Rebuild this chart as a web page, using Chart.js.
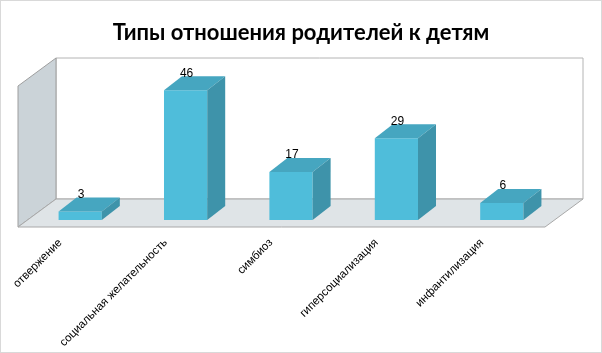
<!DOCTYPE html>
<html>
<head>
<meta charset="utf-8">
<script src="https://cdn.jsdelivr.net/npm/chart.js@4"></script>
<style>
  html, body { margin: 0; padding: 0; background: #fff; }
  #wrap { width: 602px; height: 353px; }
</style>
</head>
<body>
<div id="wrap"><canvas id="myChart" width="602" height="353"></canvas></div>
<script>
// данные
const categories = ['отвержение', 'социальная желательность', 'симбиоз', 'гиперсоциализация', 'инфантилизация'];
const values = [3, 46, 17, 29, 6];
const axisMax = 50;

// 3D: полная глубина "коробки" и глубина столбца
const DEPTH_X = 38, DEPTH_Y = -28;
const BAR_DX = 18, BAR_DY = -14;

const colFront = '#4fbdda';
const colTop = '#46a6c0';
const colSide = '#3e93aa';

function poly(ctx, pts, fill, stroke) {
    ctx.beginPath();
    ctx.moveTo(pts[0][0], pts[0][1]);
    for (let i = 1; i < pts.length; i++) ctx.lineTo(pts[i][0], pts[i][1]);
    ctx.closePath();
    if (fill) { ctx.fillStyle = fill; ctx.fill(); }
    if (stroke) { ctx.strokeStyle = stroke; ctx.lineWidth = 1; ctx.stroke(); }
}

const box3d = {
    id: 'box3d',
    beforeDraw(chart) {
        const ctx = chart.ctx;
        ctx.save();
        ctx.strokeStyle = '#d9d9d9';
        ctx.lineWidth = 1;
        ctx.strokeRect(0.5, 0.5, chart.width - 1, chart.height - 1);
        ctx.restore();
    },
    beforeDatasetsDraw(chart) {
        const ctx = chart.ctx;
        const a = chart.chartArea;
        // передний край пола на 1/4 глубины впереди столбцов
        const fx = -DEPTH_X * 0.25, fy = -DEPTH_Y * 0.25;
        const bx = DEPTH_X * 0.75, by = DEPTH_Y * 0.75;
        const fl = [a.left + fx, a.bottom + fy], fr = [a.right + fx, a.bottom + fy];
        const bl = [a.left + bx, a.bottom + by], br = [a.right + bx, a.bottom + by];
        const tl = [a.left + bx, a.top + by], tr = [a.right + bx, a.top + by];
        const ftl = [a.left + fx, a.top + fy];
        ctx.save();
        // задняя стенка
        poly(ctx, [bl, br, tr, tl], '#ffffff', '#b4b4b4');
        // боковая стенка
        poly(ctx, [fl, bl, tl, ftl], '#cbd3d8', '#9e9e9e');
        // пол
        poly(ctx, [fl, fr, br, bl], '#dfe4e7', '#a8a8a8');
        ctx.restore();
    },
    afterDatasetsDraw(chart) {
        const ctx = chart.ctx;
        const meta = chart.getDatasetMeta(0);
        ctx.save();
        meta.data.forEach((bar, i) => {
            const p = bar.getProps(['x', 'y', 'base', 'width'], true);
            const l = p.x - p.width / 2, r = p.x + p.width / 2;
            // верх
            poly(ctx, [[l, p.y], [r, p.y], [r + BAR_DX, p.y + BAR_DY], [l + BAR_DX, p.y + BAR_DY]], colTop, null);
            // бок
            poly(ctx, [[r, p.y], [r + BAR_DX, p.y + BAR_DY], [r + BAR_DX, p.base + BAR_DY], [r, p.base]], colSide, null);
            // подписи значений
            ctx.fillStyle = '#000';
            ctx.font = '12px "Liberation Sans", Arial, sans-serif';
            ctx.textAlign = 'center';
            ctx.textBaseline = 'middle';
            ctx.fillText(String(values[i]), p.x + 1, p.y - 17);
        });
        ctx.restore();
    }
};

const ctx = document.getElementById('myChart').getContext('2d');
const myChart = new Chart(ctx, {
    type: 'bar',
    data: {
        labels: categories,
        datasets: [{
            data: values,
            backgroundColor: colFront,
            borderWidth: 0,
            barPercentage: 0.41,
            categoryPercentage: 1
        }]
    },
    options: {
        responsive: false,
        animation: false,
        layout: {
            padding: { left: 27.5, right: 27.5, top: 0, bottom: 0 }
        },
        plugins: {
            legend: { display: false },
            tooltip: { enabled: false },
            title: {
                display: true,
                text: 'Типы отношения родителей к детям',
                color: '#000',
                font: { family: 'Lato, "Open Sans", sans-serif', size: 22, weight: 'bold' },
                padding: { top: 20, bottom: 32.6 }
            }
        },
        scales: {
            x: {
                grid: { display: false },
                border: { display: false },
                ticks: {
                    autoSkip: false,
                    minRotation: 45,
                    maxRotation: 45,
                    padding: 8,
                    labelOffset: -20,
                    color: '#000',
                    font: { family: '"Liberation Sans", Arial, sans-serif', size: 11.5 }
                },
                afterFit(scale) { scale.height = 133; }
            },
            y: {
                position: 'right',
                min: 0,
                max: axisMax,
                grid: { display: false },
                border: { display: false },
                ticks: { display: false },
                // пустое место справа под глубину "коробки"
                afterFit(scale) { scale.width = 20; }
            }
        }
    },
    plugins: [box3d]
});
</script>
</body>
</html>
